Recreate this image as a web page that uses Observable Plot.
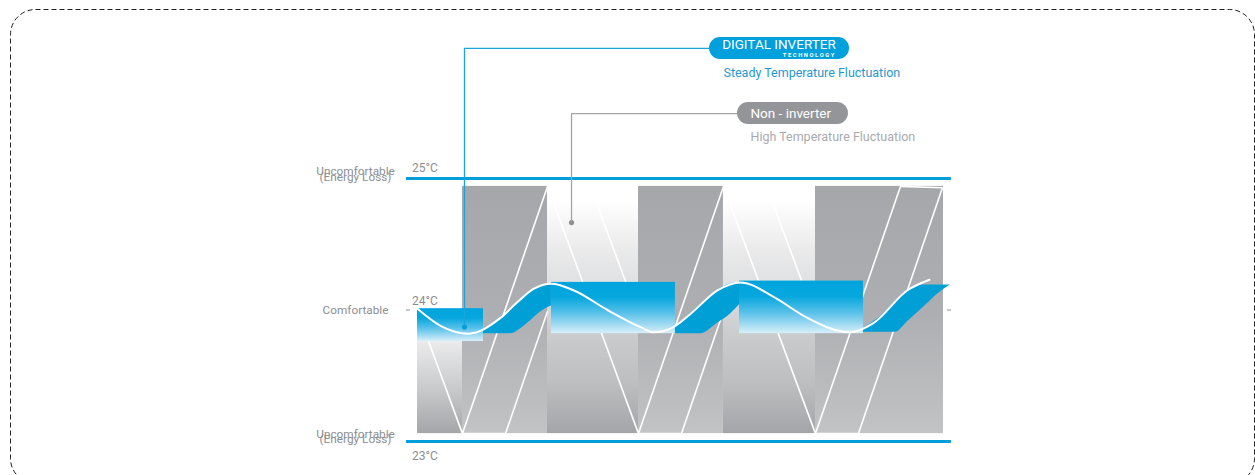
<!DOCTYPE html>
<html>
<head>
<meta charset="utf-8">
<script src="https://cdn.jsdelivr.net/npm/d3@7"></script>
<script src="https://cdn.jsdelivr.net/npm/@observablehq/plot@0.6"></script>
<style>
  html, body { margin: 0; padding: 0; background: #ffffff; }
  #chart { position: absolute; left: 0; top: 0; width: 1255px; height: 475px; overflow: hidden; }
</style>
</head>
<body>
<div id="chart"></div>
<script>
// ---------------- DATA (time in minutes, temperature in °C) ----------------

// Non-inverter compressor phases (background columns)
const phaseStart = [0, 5.13, 14.83, 25.21, 34.90, 45.40];
const phaseEnd   = [5.13, 14.83, 25.21, 34.90, 45.40, 60];
const phaseMode  = ["on", "off", "on", "off", "on", "off"];
const phaseLow   = [23.06, 23.06, 23.06, 23.06, 23.06, 23.06];
const phaseHigh  = [23.76, 24.94, 24.94, 24.94, 24.94, 24.94];

// Non-inverter temperature swing: leading edge (vertices) ...
const swingATime = [0, 5.13, 14.83, 25.21, 34.90, 45.40, 55.09];
const swingATemp = [23.99, 23.06, 24.94, 23.06, 24.94, 23.06, 24.94];
// ... and trailing edge, seen only inside each phase column
const swingBFromTime = [10.04, 19.73, 30.11, 39.81, 50.30];
const swingBFromTemp = [23.06, 24.94, 23.06, 24.94, 23.06];
const swingBToTime   = [14.83, 25.21, 34.90, 45.40, 59.88];
const swingBToTemp   = [23.99, 23.95, 23.99, 23.94, 24.93];

// Digital inverter temperature curve
const inverterTime = [0.00, 2.62, 5.82, 9.47, 11.41, 13.23, 15.28, 17.79, 21.67, 25.44, 26.92,
                      29.20, 31.14, 34.22, 36.84, 40.61, 44.48, 49.28, 52.01, 55.89, 58.40];
const inverterTemp = [24.01, 23.88, 23.82, 23.94, 24.06, 24.16, 24.20, 24.15, 24.00, 23.87, 23.83,
                      23.87, 23.97, 24.15, 24.21, 24.10, 23.94, 23.83, 23.90, 24.15, 24.23];

// Digital inverter steady blocks
const steadyStart = [0, 15.28, 36.73];
const steadyEnd   = [7.53, 29.42, 50.87];
const steadyLow   = [23.76, 23.82, 23.82];
const steadyHigh  = [24.01, 24.21, 24.22];

// Digital inverter ramps between blocks
const rampId   = [1, 1, 1, 1, 1, 2, 2, 2, 2, 2, 3, 3, 3, 3, 3, 3, 3];
const rampTime = [7.53, 10.61, 12.55, 14.37, 15.28, 29.42, 32.28, 34.22, 35.70, 36.73,
                  50.87, 52.81, 54.52, 55.89, 57.72, 59.31, 60.80];
const rampLow  = [23.82, 23.82, 23.90, 24.00, 24.03, 23.82, 23.82, 23.90, 23.97, 24.04,
                  23.83, 23.83, 23.83, 23.91, 24.02, 24.12, 24.19];
const rampHigh = [23.84, 24.00, 24.13, 24.19, 24.20, 23.87, 24.04, 24.15, 24.20, 24.21,
                  23.86, 23.95, 24.06, 24.14, 24.19, 24.19, 24.19];

// Temperature references and zone labels
const limitTemps  = [25, 23];
const refTemps    = [25, 24, 23];
const refLabels   = ["25°C", "24°C", "23°C"];
const zoneNames   = ["Uncomfortable", "Comfortable", "Uncomfortable"];
const zoneNotes   = ["(Energy Loss)", "", "(Energy Loss)"];

// Legend / callouts
const seriesNames = ["DIGITAL INVERTER", "Non - inverter"];
const seriesSub   = ["TECHNOLOGY", ""];
const seriesNotes = ["Steady Temperature Fluctuation", "High Temperature Fluctuation"];

// ---------------- LAYOUT (positions in data units, styles) ----------------
const LAYOUT = {
  lineFrom: -1.25, lineTo: 60.9,
  refLabelAt: -0.63,
  refLabelDy: [-10.5, -9, 15],
  zoneLabelAt: -7.07,
  zoneNameDy: [-7, 0.5, -7],
  zoneNoteDy: [-1, 0, -2],
  tickLeft: [-1.25, -0.8], tickRight: [60.45, 60.91],
  callouts: [
    { anchorT: 5.36, anchorTemp: 23.87, elbowTemp: 25.989, pill: [33.31, 49.28, 25.905, 26.072],
      textT: 34.75, textTemp: 26.016, subT: 47.74, subTemp: 25.935, noteT: 34.90, noteTemp: 25.80,
      pillColor: "#00a0dc", lineColor: "#1aa3dc", dotColor: "#0a9fd8", noteColor: "#1f97d4", fontSize: 13.5 },
    { anchorT: 17.57, anchorTemp: 24.665, elbowTemp: 25.494, pill: [36.50, 49.16, 25.411, 25.578],
      textT: 37.98, textTemp: 25.491, subT: 0, subTemp: 0, noteT: 37.98, noteTemp: 25.319,
      pillColor: "#939598", lineColor: "#a2a4a7", dotColor: "#8e9093", noteColor: "#a9abae", fontSize: 13.5 }
  ]
};

// ---------------- BUILD TABLES ----------------
const phases = phaseStart.map((s, i) => ({start: s, end: phaseEnd[i], mode: phaseMode[i], low: phaseLow[i], high: phaseHigh[i]}));
const swingA = swingATime.map((t, i) => ({t, T: swingATemp[i]}));
const swingB = swingBFromTime.map((t, i) => ({x1: t, y1: swingBFromTemp[i], x2: swingBToTime[i], y2: swingBToTemp[i]}));
const connectors = swingBFromTime.map((t, i) => ({x1: swingATime[i + 1], y1: swingATemp[i + 1], x2: t, y2: swingBFromTemp[i]}));
const nA = swingATime.length - 1, nB = swingBToTime.length - 1;
connectors.push({x1: swingATime[nA], y1: swingATemp[nA], x2: swingBToTime[nB], y2: swingBToTemp[nB]});
const inverter = inverterTime.map((t, i) => ({t, T: inverterTemp[i]}));
const steady = steadyStart.map((s, i) => ({start: s, end: steadyEnd[i], low: steadyLow[i], high: steadyHigh[i]}));
const ramps = rampTime.map((t, i) => ({id: rampId[i], t, low: rampLow[i], high: rampHigh[i]}));

const grey = "#8c8e91";
const font = "Roboto";

const marks = [
  Plot.frame({stroke: "#1e1e1e", strokeWidth: 1, strokeDasharray: "5,3", rx: 25,
              insetLeft: 10, insetTop: 9, insetRight: 1, insetBottom: -8}),
  Plot.rect(phases, {filter: d => d.mode === "on" && d.high > 24.5, x1: "start", x2: "end", y1: "low", y2: "high", fill: "url(#gLight)"}),
  Plot.rect(phases, {filter: d => d.mode === "on" && d.high <= 24.5, x1: "start", x2: "end", y1: "low", y2: "high", fill: "url(#gLightLow)"}),
  Plot.rect(phases, {filter: d => d.mode === "off", x1: "start", x2: "end", y1: "low", y2: "high", fill: "url(#gDark)"}),
  Plot.line(swingA, {x: "t", y: "T", stroke: "#ffffff", strokeWidth: 1.6}),
  Plot.link(swingB, {x1: "x1", y1: "y1", x2: "x2", y2: "y2", stroke: "#ffffff", strokeWidth: 1.6}),
  Plot.link(connectors, {x1: "x1", y1: "y1", x2: "x2", y2: "y2", stroke: "#ffffff", strokeWidth: 1.6}),
  Plot.rect(steady, {x1: "start", x2: "end", y1: "low", y2: "high", fill: "url(#gBlue)"}),
  Plot.areaY(ramps, {x: "t", y1: "low", y2: "high", z: "id", fill: "#00a0d7", curve: "monotone-x"}),
  Plot.line(inverter, {x: "t", y: "T", stroke: "#ffffff", strokeWidth: 2, curve: "monotone-x"}),
  Plot.ruleY(limitTemps, {x1: LAYOUT.lineFrom, x2: LAYOUT.lineTo, stroke: "#009fdb", strokeWidth: 3}),
  Plot.ruleY([24], {x1: LAYOUT.tickLeft[0], x2: LAYOUT.tickLeft[1], stroke: "#8a8c8f", strokeWidth: 1}),
  Plot.ruleY([24], {x1: LAYOUT.tickRight[0], x2: LAYOUT.tickRight[1], stroke: "#8a8c8f", strokeWidth: 1})
];

// reference temperature labels and zone labels
refTemps.forEach((T, i) => {
  marks.push(Plot.text([{T, label: refLabels[i]}], {x: LAYOUT.refLabelAt, y: "T", text: "label", textAnchor: "start",
    dy: LAYOUT.refLabelDy[i], fill: grey, fontSize: 12, fontFamily: font}));
  marks.push(Plot.text([{T, label: zoneNames[i]}], {x: LAYOUT.zoneLabelAt, y: "T", text: "label", textAnchor: "middle",
    dy: LAYOUT.zoneNameDy[i], fill: grey, fontSize: 11.8, fontFamily: font}));
  if (zoneNotes[i]) {
    marks.push(Plot.text([{T, label: zoneNotes[i]}], {x: LAYOUT.zoneLabelAt, y: "T", text: "label", textAnchor: "middle",
      dy: LAYOUT.zoneNoteDy[i], fill: grey, fontSize: 11.8, fontFamily: font}));
  }
});

// callouts
LAYOUT.callouts.forEach((c, i) => {
  const path = [
    {t: c.anchorT, T: c.anchorTemp},
    {t: c.anchorT, T: c.elbowTemp},
    {t: c.pill[0] + 0.5, T: c.elbowTemp}
  ];
  marks.push(Plot.line(path, {x: "t", y: "T", stroke: c.lineColor, strokeWidth: 1.3}));
  marks.push(Plot.dot([path[0]], {x: "t", y: "T", r: 2.6, fill: c.dotColor, stroke: null}));
  marks.push(Plot.rect([{x1: c.pill[0], x2: c.pill[1], y1: c.pill[2], y2: c.pill[3]}],
    {x1: "x1", x2: "x2", y1: "y1", y2: "y2", fill: c.pillColor, rx: 11}));
  marks.push(Plot.text([{t: c.textT, T: c.textTemp, s: seriesNames[i]}], {x: "t", y: "T", text: "s", textAnchor: "start",
    fill: "#ffffff", fontSize: c.fontSize, fontFamily: font}));
  if (seriesSub[i]) {
    marks.push(Plot.text([{t: c.subT, T: c.subTemp, s: seriesSub[i]}], {x: "t", y: "T", text: "s", textAnchor: "end",
      fill: "#ffffff", fontSize: 5.8, fontFamily: font, fontWeight: "bold"}));
  }
  marks.push(Plot.text([{t: c.noteT, T: c.noteTemp, s: seriesNotes[i]}], {x: "t", y: "T", text: "s", textAnchor: "start",
    fill: c.noteColor, fontSize: 12.5, fontFamily: font}));
});

const svg = Plot.plot({
  width: 1255,
  height: 475,
  marginTop: 0, marginRight: 0, marginBottom: 0, marginLeft: 0,
  x: {domain: [0, 60], range: [417, 943], axis: null},
  y: {domain: [23, 25], range: [441, 178], axis: null},
  style: {background: "transparent", fontFamily: font},
  marks
});

// gradients
const defs = d3.select(svg).insert("defs", ":first-child");
function grad(id, stops) {
  const g = defs.append("linearGradient").attr("id", id).attr("x1", 0).attr("y1", 0).attr("x2", 0).attr("y2", 1);
  stops.forEach(([o, c]) => g.append("stop").attr("offset", o).attr("stop-color", c));
}
grad("gLight", [[0, "#ffffff"], [0.06, "#ffffff"], [0.25, "#ebebec"], [0.4, "#dfe0e1"], [0.62, "#c9cacc"], [0.8, "#bdbec0"], [1, "#a4a5a8"]]);
grad("gLightLow", [[0, "#ebebec"], [0.5, "#cacbcd"], [1, "#a5a6a9"]]);
grad("gDark", [[0, "#a6a7aa"], [0.5, "#adaeb1"], [1, "#c2c3c5"]]);
grad("gBlue", [[0, "#00a4dd"], [0.3, "#06a7de"], [0.6, "#56c0e9"], [1, "#d8eff9"]]);

d3.select(svg).selectAll("text").filter(function () { return this.textContent === "TECHNOLOGY"; })
  .attr("letter-spacing", "1.6px");

document.getElementById("chart").appendChild(svg);
</script>
</body>
</html>
